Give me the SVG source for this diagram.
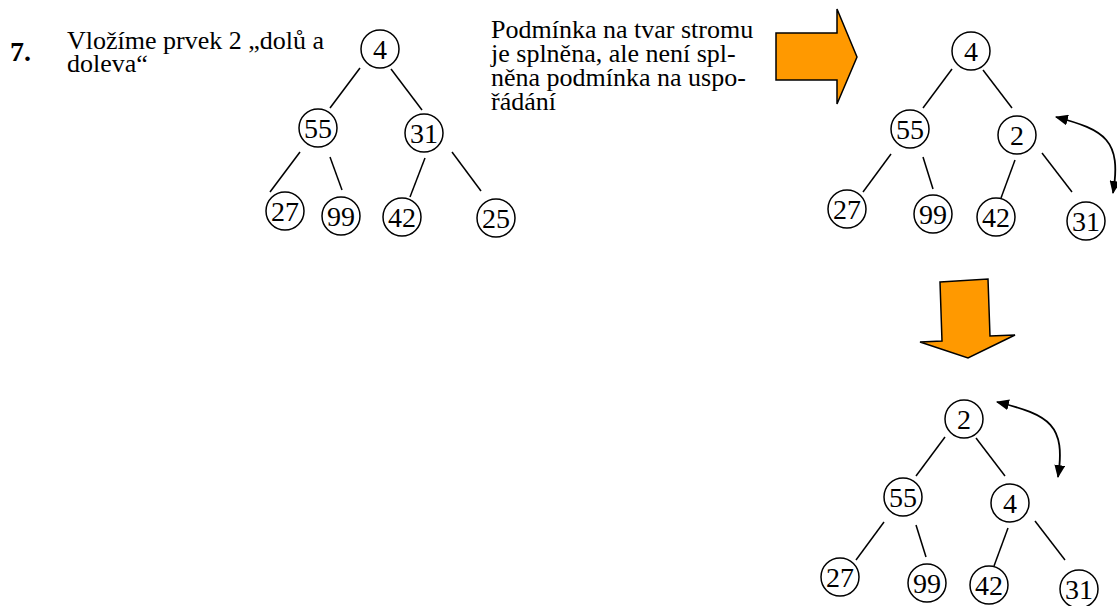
<svg xmlns="http://www.w3.org/2000/svg" width="1117" height="606" viewBox="0 0 1117 606" font-family="'Liberation Serif', 'Times New Roman', Tinos, 'DejaVu Serif', serif">
<style>
.bg{fill:#ffffff}
.node circle{fill:#ffffff;stroke:#000000;stroke-width:1.5}
.node text{font-family:'Liberation Serif','Times New Roman',serif;font-size:28px;text-anchor:middle;fill:#000000}
.edges line{stroke:#000000;stroke-width:1.5}
.txt{font-family:'Liberation Serif','Times New Roman',serif;font-size:26px;fill:#000000}
.num{font-family:'Liberation Serif','Times New Roman',serif;font-size:28px;font-weight:bold;fill:#000000}
.big{fill:#FF9900;stroke:#000000;stroke-width:1.5;stroke-linejoin:miter}
.swap{fill:none;stroke:#000000;stroke-width:1.8}
</style>
<defs>
<marker id="ah" viewBox="0 0 12 10" refX="11" refY="5" markerWidth="13" markerHeight="11" markerUnits="userSpaceOnUse" orient="auto-start-reverse">
<path d="M0,0 L12,5 L0,10 z" fill="#000000"/>
</marker>
</defs>
<rect class="bg" x="0" y="0" width="1117" height="606"/>

<g id="labels">
<text class="num" x="10" y="61">7.</text>
<text class="txt" x="67" y="49">Vložíme prvek 2 „dolů a</text>
<text class="txt" x="67" y="72">doleva“</text>
<text class="txt" x="491" y="38">Podmínka na tvar stromu</text>
<text class="txt" x="491" y="62">je splněna, ale není spl-</text>
<text class="txt" x="491" y="86">něna podmínka na uspo-</text>
<text class="txt" x="491" y="110">řádání</text>
</g>

<g id="big-arrows">
<polygon id="arrow-right" class="big" points="776,33 837,33 837,9 857,57 837,104 837,80 776,80"/>
<polygon id="arrow-down" class="big" points="940,282 988,279 990,336 1015,335 968,358 920,342 942,341"/>
</g>

<g id="connectors" class="edges">
<line x1="360" y1="68" x2="330" y2="108"/>
<line x1="391" y1="69" x2="422" y2="110"/>
<line x1="300" y1="152" x2="270" y2="192"/>
<line x1="330" y1="157" x2="342" y2="190"/>
<line x1="425" y1="158" x2="410" y2="197"/>
<line x1="452" y1="152" x2="481" y2="191"/>
<line x1="952" y1="69" x2="923" y2="108"/>
<line x1="983" y1="70" x2="1012" y2="108"/>
<line x1="891" y1="154" x2="863" y2="192"/>
<line x1="923" y1="157" x2="933" y2="189"/>
<line x1="1015" y1="160" x2="1001" y2="198"/>
<line x1="1042" y1="153" x2="1072" y2="192"/>
<line x1="945" y1="437" x2="916" y2="476"/>
<line x1="976" y1="438" x2="1005" y2="476"/>
<line x1="884" y1="522" x2="856" y2="560"/>
<line x1="916" y1="525" x2="926" y2="557"/>
<line x1="1008" y1="528" x2="994" y2="566"/>
<line x1="1035" y1="521" x2="1065" y2="560"/>
<path class="swap" d="M1056,117 C1105,130 1122,140 1113,193" marker-start="url(#ah)" marker-end="url(#ah)"/>
<path class="swap" d="M997,402 C1050,415 1066,425 1058,477" marker-start="url(#ah)" marker-end="url(#ah)"/>
</g>

<g id="tree1">
<g id="t1-4" class="node"><circle cx="380" cy="49" r="19"/><text x="380" y="59">4</text></g>
<g id="t1-55" class="node"><circle cx="318" cy="128" r="19"/><text x="318" y="138">55</text></g>
<g id="t1-31" class="node"><circle cx="424" cy="133" r="19"/><text x="424" y="143">31</text></g>
<g id="t1-27" class="node"><circle cx="285" cy="211" r="19"/><text x="285" y="221">27</text></g>
<g id="t1-99" class="node"><circle cx="341" cy="216" r="19"/><text x="341" y="226">99</text></g>
<g id="t1-42" class="node"><circle cx="402" cy="217" r="19"/><text x="402" y="227">42</text></g>
<g id="t1-25" class="node"><circle cx="496" cy="218" r="19"/><text x="496" y="228">25</text></g>
</g>

<g id="tree2">
<g id="t2-4" class="node"><circle cx="971" cy="51" r="19"/><text x="971" y="61">4</text></g>
<g id="t2-55" class="node"><circle cx="910" cy="129" r="19"/><text x="910" y="139">55</text></g>
<g id="t2-2" class="node"><circle cx="1017" cy="135" r="19"/><text x="1017" y="145">2</text></g>
<g id="t2-27" class="node"><circle cx="847" cy="209" r="19"/><text x="847" y="219">27</text></g>
<g id="t2-99" class="node"><circle cx="933" cy="214" r="19"/><text x="933" y="224">99</text></g>
<g id="t2-42" class="node"><circle cx="996" cy="217" r="19"/><text x="996" y="227">42</text></g>
<g id="t2-31" class="node"><circle cx="1086" cy="221" r="19"/><text x="1086" y="231">31</text></g>
</g>

<g id="tree3">
<g id="t3-2" class="node"><circle cx="964" cy="419" r="19"/><text x="964" y="429">2</text></g>
<g id="t3-55" class="node"><circle cx="903" cy="497" r="19"/><text x="903" y="507">55</text></g>
<g id="t3-4" class="node"><circle cx="1010" cy="503" r="19"/><text x="1010" y="513">4</text></g>
<g id="t3-27" class="node"><circle cx="840" cy="577" r="19"/><text x="840" y="587">27</text></g>
<g id="t3-99" class="node"><circle cx="927" cy="583" r="19"/><text x="927" y="593">99</text></g>
<g id="t3-42" class="node"><circle cx="989" cy="585" r="19"/><text x="989" y="595">42</text></g>
<g id="t3-31" class="node"><circle cx="1079" cy="589" r="19"/><text x="1079" y="599">31</text></g>
</g>
</svg>
